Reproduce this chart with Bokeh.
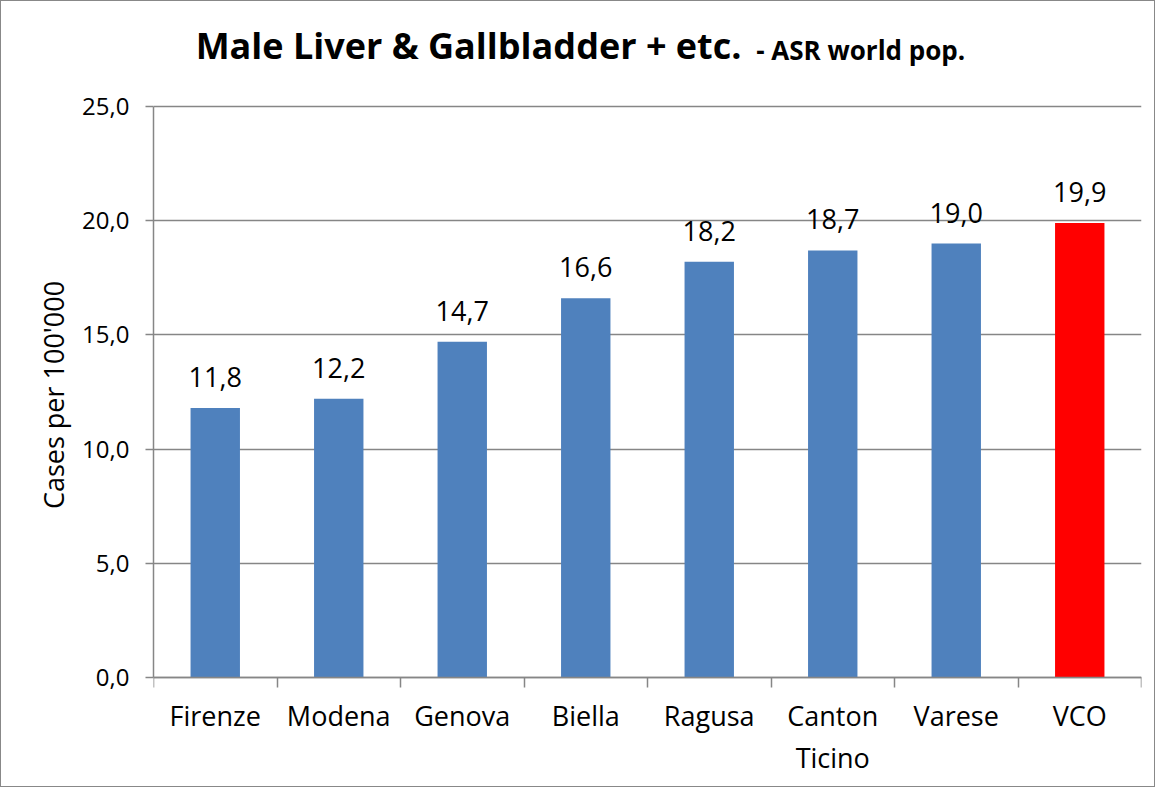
from bokeh.plotting import figure
from bokeh.models import (ColumnDataSource, FixedTicker, CustomJSTickFormatter,
                          LabelSet, Label, Range1d)
from bokeh.core.properties import value
from bokeh.embed import file_html
from bokeh.resources import INLINE

categories = ["Firenze", "Modena", "Genova", "Biella", "Ragusa", "Canton Ticino", "Varese", "VCO"]
tick_labels = ["Firenze", "Modena", "Genova", "Biella", "Ragusa", "Canton\nTicino", "Varese", "VCO"]
values = [11.8, 12.2, 14.7, 16.6, 18.2, 18.7, 19.0, 19.9]
highlight = "VCO"
y_ticks = [0, 5, 10, 15, 20, 25]
y_max = 25

FONT = "Open Sans"
BLUE = "#4F81BD"
RED = "#FF0000"
GRAY = "#868686"

xs = [i + 0.5 for i in range(len(categories))]
colors = [RED if c == highlight else BLUE for c in categories]
labels = [f"{v:.1f}".replace(".", ",") for v in values]

src = ColumnDataSource(dict(x=xs, top=values, color=colors, label=labels))

# The frame spans the full height (title and category labels are drawn inside it);
# the value range 0..25 occupies screen rows VAL_TOP..VAL_BOTTOM.
H = 787
VAL_TOP, VAL_BOTTOM = 105, 676
px_per_unit = (VAL_BOTTOM - VAL_TOP) / y_max
y_end = y_max + VAL_TOP / px_per_unit
y_start = -(H - VAL_BOTTOM) / px_per_unit

p = figure(width=1155, height=H, output_backend="svg", toolbar_location=None,
           x_range=Range1d(0, len(categories)), y_range=Range1d(y_start, y_end),
           min_border_left=152, min_border_right=15, min_border_top=0,
           min_border_bottom=0)
p.title.visible = False
p.styles = {"border": "1px solid #888888"}
p.outline_line_color = None
p.background_fill_color = "white"
p.border_fill_color = "white"

p.vbar(x="x", bottom=0, top="top", width=0.4, fill_color="color", line_color=None, source=src)

p.add_layout(LabelSet(x="x", y="top", text="label", source=src, y_offset=21,
                      text_align="center", text_baseline="alphabetic",
                      text_font=value(FONT), text_font_size=value("27px"),
                      text_color="black"))

# x axis, pinned at y = 0
xa = p.xaxis[0]
xa.fixed_location = 0
xa.ticker = FixedTicker(ticks=xs, minor_ticks=list(range(len(categories) + 1)))
xa.major_label_overrides = {x: t for x, t in zip(xs, tick_labels)}
xa.major_tick_out = 0
xa.major_tick_in = 0
xa.minor_tick_out = 10
xa.minor_tick_in = 0
xa.minor_tick_line_color = GRAY
xa.minor_tick_line_width = 1.5
xa.axis_line_color = GRAY
xa.axis_line_width = 1.5
xa.major_label_text_font = FONT
xa.major_label_text_font_size = "27px"
xa.major_label_text_color = "black"
xa.major_label_text_line_height = 1.15
xa.major_label_standoff = 9

# y axis
ya = p.yaxis[0]
ya.bounds = (0, y_max)
ya.ticker = FixedTicker(ticks=y_ticks)
ya.formatter = CustomJSTickFormatter(code="return tick.toFixed(1).replace('.', ',');")
ya.major_tick_out = 8
ya.major_tick_in = 0
ya.minor_tick_line_color = None
ya.major_tick_line_color = GRAY
ya.major_tick_line_width = 1.5
ya.axis_line_color = GRAY
ya.axis_line_width = 1.5
ya.major_label_text_font = FONT
ya.major_label_text_font_size = "24px"
ya.major_label_text_color = "black"
ya.major_label_standoff = 16
ya.axis_label = "Cases per 100'000"
ya.axis_label_text_font = FONT
ya.axis_label_text_font_size = "27px"
ya.axis_label_text_font_style = "normal"
ya.axis_label_text_color = "black"
ya.axis_label_standoff = 7

p.xgrid.grid_line_color = None
p.ygrid.ticker = FixedTicker(ticks=y_ticks)
p.ygrid.grid_line_color = GRAY
p.ygrid.grid_line_width = 1.5

# title (two parts sharing a baseline)
def y_at(screen_y):
    return y_max + (VAL_TOP - screen_y) / px_per_unit

p.add_layout(Label(x=4.761, y=y_at(44), text="Male Liver & Gallbladder + etc.",
                   text_align="right", text_baseline="alphabetic",
                   text_font=FONT, text_font_style="bold", text_font_size="36px",
                   text_color="black"))
p.add_layout(Label(x=4.88, y=y_at(48), text="- ASR world pop.",
                   text_align="left", text_baseline="alphabetic",
                   text_font=FONT, text_font_style="bold", text_font_size="26px",
                   text_color="black"))

open("out.html", "w").write(file_html(p, INLINE))
